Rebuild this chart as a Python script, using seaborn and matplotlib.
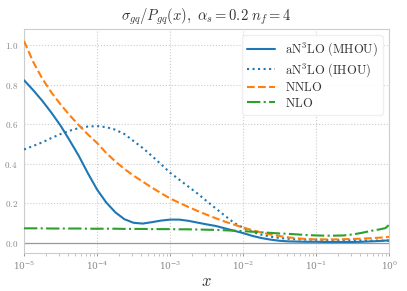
import numpy as np
import pandas as pd
import matplotlib
matplotlib.use("Agg")
import matplotlib.pyplot as plt
import seaborn as sns
from matplotlib.ticker import FuncFormatter, LogLocator

# values (x on log scale, log10 x)
log_x = [-5.0, -4.875, -4.75, -4.625, -4.5, -4.375, -4.25, -4.125,
         -4.0, -3.875, -3.75, -3.625, -3.5, -3.375, -3.25, -3.125,
         -3.0, -2.875, -2.75, -2.625, -2.5, -2.375, -2.25, -2.125,
         -2.0, -1.875, -1.75, -1.625, -1.5, -1.375, -1.25, -1.125,
         -1.0, -0.875, -0.75, -0.625, -0.5, -0.375, -0.25, -0.125,
         -0.05, 0.0]
an3lo_mhou = [0.822, 0.772, 0.718, 0.658, 0.593, 0.518, 0.44, 0.352,
              0.27, 0.205, 0.155, 0.12, 0.102, 0.098, 0.105, 0.113,
              0.118, 0.118, 0.112, 0.103, 0.094, 0.086, 0.074, 0.062,
              0.05, 0.036, 0.025, 0.017, 0.011, 0.008, 0.007, 0.006,
              0.006, 0.005, 0.005, 0.005, 0.005, 0.006, 0.008, 0.010,
              0.012, 0.013]
an3lo_ihou = [0.472, 0.49, 0.508, 0.53, 0.55, 0.567, 0.58, 0.588,
              0.59, 0.585, 0.572, 0.55, 0.515, 0.48, 0.44, 0.398,
              0.355, 0.32, 0.285, 0.25, 0.212, 0.175, 0.138, 0.102,
              0.077, 0.056, 0.042, 0.032, 0.025, 0.021, 0.018, 0.017,
              0.016, 0.015, 0.014, 0.014, 0.013, 0.013, 0.012, 0.012,
              0.012, 0.012]
nnlo = [1.02, 0.915, 0.83, 0.76, 0.70, 0.645, 0.595, 0.548,
        0.505, 0.455, 0.412, 0.374, 0.34, 0.31, 0.28, 0.252,
        0.225, 0.203, 0.182, 0.162, 0.143, 0.125, 0.108, 0.093,
        0.078, 0.065, 0.053, 0.043, 0.035, 0.028, 0.023, 0.02,
        0.018, 0.018, 0.018, 0.019, 0.02, 0.022, 0.024, 0.027,
        0.029, 0.031]
nlo = [0.074, 0.074, 0.074, 0.073, 0.073, 0.073, 0.073, 0.072,
       0.072, 0.072, 0.072, 0.071, 0.071, 0.071, 0.070, 0.070,
       0.070, 0.069, 0.069, 0.068, 0.067, 0.066, 0.064, 0.062,
       0.060, 0.057, 0.054, 0.051, 0.048, 0.046, 0.043, 0.040,
       0.038, 0.037, 0.037, 0.038, 0.043, 0.051, 0.061, 0.069,
       0.075, 0.092]

labels = [r"$\mathrm{aN^3LO\ (MHOU)}$", r"$\mathrm{aN^3LO\ (IHOU)}$",
          r"$\mathrm{NNLO}$", r"$\mathrm{NLO}$"]
colors = ["#1f77b4", "#1f77b4", "#ff7f0e", "#2ca02c"]
styles = ["-", ":", "--", "-."]

x = 10.0 ** np.array(log_x)
df = pd.DataFrame({"x": np.tile(x, 4),
                   "y": an3lo_mhou + an3lo_ihou + nnlo + nlo,
                   "order": np.repeat(labels, len(x))})

sns.set_style("whitegrid", {"grid.linestyle": ":", "grid.color": "#cccccc",
                            "axes.edgecolor": "#cccccc"})
plt.rcParams["mathtext.fontset"] = "cm"
plt.rcParams["font.family"] = ["DejaVu Serif"]

fig = plt.figure(figsize=(4.07, 2.91), dpi=100)
ax = fig.add_axes([0.059, 0.131, 0.897, 0.769])

ax.axhline(0, color="#999999", lw=0.9, zorder=1)
for lab, c, ls in zip(labels, colors, styles):
    sub = df[df["order"] == lab]
    sns.lineplot(data=sub, x="x", y="y", ax=ax, color=c, linestyle=ls,
                 lw=1.5, label=lab, zorder=3)

ax.set_xscale("log")
ax.set_xlim(1e-5, 1)
ax.set_ylim(-0.05, 1.08)
ax.set_yticks([0.0, 0.2, 0.4, 0.6, 0.8, 1.0])
ax.yaxis.set_major_formatter(FuncFormatter(lambda v, p: r"$%.1f$" % v))
ax.xaxis.set_major_locator(LogLocator(base=10, numticks=10))
ax.xaxis.set_minor_locator(LogLocator(base=10, subs=np.arange(2, 10), numticks=20))
ax.tick_params(axis="both", labelsize=6.5, colors="#888888", length=2.5,
               width=0.6, pad=2)
ax.tick_params(axis="x", which="minor", length=1.8, width=0.5, colors="#aaaaaa", bottom=True)
ax.tick_params(axis="x", which="major", bottom=True)

ax.set_xlabel(r"$x$", fontsize=12, color="#333333", labelpad=1)
ax.set_ylabel("")
ax.set_title(r"$\sigma_{gq}/P_{gq}(x),\ \alpha_s = 0.2\ n_f = 4$", fontsize=10.5,
             color="#333333")

leg = ax.legend(loc="upper right", fontsize=9, handlelength=2.2, frameon=True,
                framealpha=0.9, edgecolor="#eeeeee", labelspacing=0.2)
for t in leg.get_texts():
    t.set_color("#333333")

fig.savefig("out.png", dpi=100)
